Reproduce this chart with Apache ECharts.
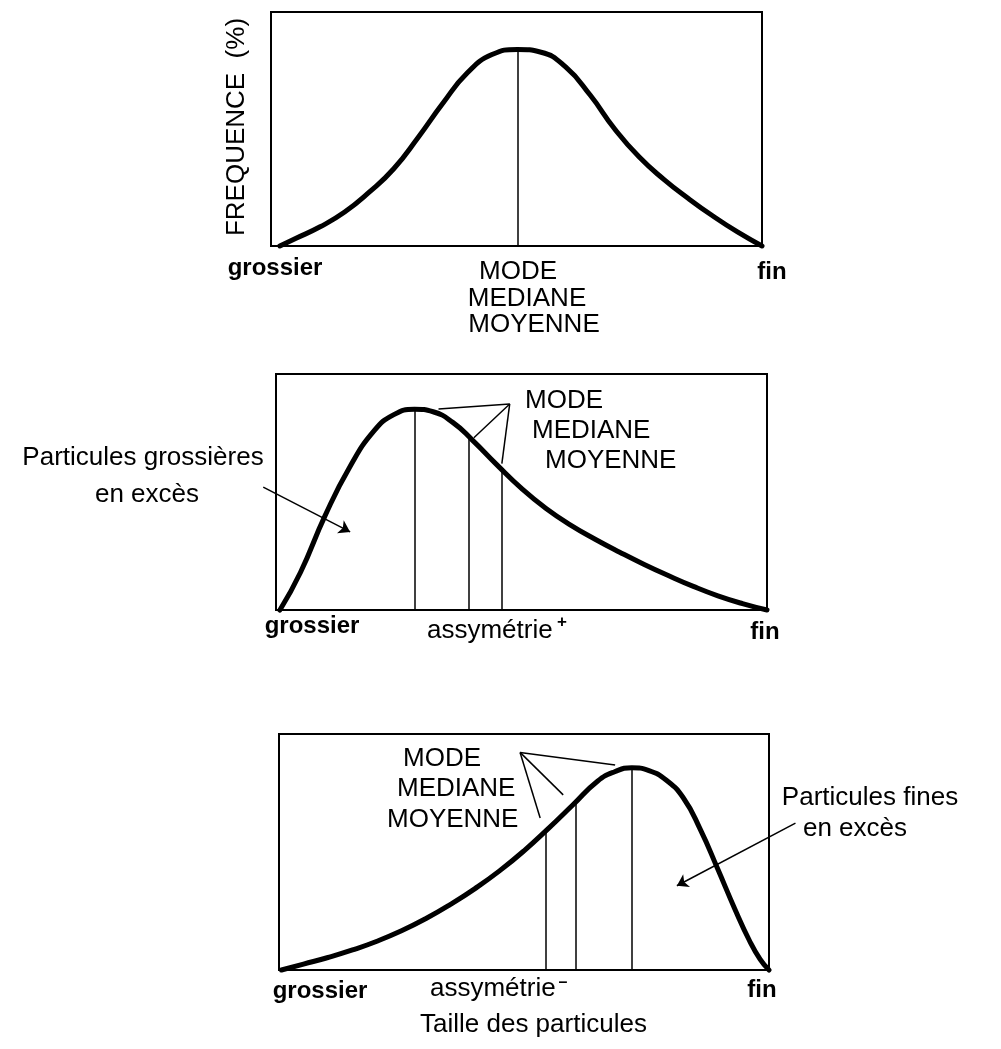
<!DOCTYPE html>
<html>
<head>
<meta charset="utf-8">
<title>Distribution granulométrique</title>
<script src="https://cdn.jsdelivr.net/npm/echarts@6/dist/echarts.min.js"></script>
<style>
  html, body { margin: 0; padding: 0; background: #fff; }
  #main { width: 1001px; height: 1049px; }
</style>
</head>
<body>
<div id="main"></div>
<script>
// courbe symétrique (haut)
var symX = [1.8, 5, 10, 15, 20, 25, 30, 35, 40, 45, 50.2, 55, 60, 65, 70, 75, 80, 85, 90, 95, 100];
var symY = [0, 3.2, 8.2, 14.5, 23, 33, 46.5, 61, 74, 81.8, 84, 82.8, 76.5, 64.5, 50, 38, 28.5, 20.3, 12.8, 6, 0];
var symRepX = [50.2];          // mode = médiane = moyenne
var symRepY = [84];

// assymétrie positive (milieu)
var posX = [0.8, 5, 10, 15, 20, 24, 28.2, 32, 36, 40, 45, 50, 55, 60, 65, 70, 75, 80, 85, 90, 95, 100];
var posY = [0, 16, 40, 60.5, 76, 82.8, 85.1, 84, 79.5, 72, 61.5, 51.5, 43, 36, 30, 24.5, 19.3, 14.5, 10, 6, 2.7, 0];
var posRepX = [28.3, 39.3, 46.0];   // mode, médiane, moyenne
var posRepY = [85.1, 73, 59];

// assymétrie négative (bas)
var negX = [0.5, 5, 10, 15, 20, 25, 30, 35, 40, 45, 50, 55, 60, 65, 68.5, 72, 75.5, 79, 82.5, 86, 89.5, 93, 96, 98.2, 100];
var negY = [0, 2.5, 5.3, 8.5, 12.2, 16.6, 21.8, 27.8, 34.5, 42, 50.5, 60, 70, 80, 84, 85.7, 84.5, 80.5, 73, 59.5, 43, 26, 12.5, 4.5, 0];
var negRepX = [54.4, 60.5, 71.9];   // moyenne, médiane, mode
var negRepY = [59.5, 71, 85.7];

// traits de rappel vers les étiquettes MODE / MEDIANE / MOYENNE
var posLeaderFrom = [47.6, 87.3];
var posLeaderTo = [[33.1, 85.2], [40.3, 73.0], [46.0, 62.0]];
var negLeaderFrom = [49.2, 92.2];
var negLeaderTo = [[68.6, 86.9], [58.0, 74.2], [53.3, 64.4]];

// flèches "en excès"
var posArrow = [[-2.6, 52.1], [15.1, 33.1]];
var negArrow = [[105.4, 62.2], [81.2, 35.7]];

var FONT = '"Liberation Sans", Arial, Helvetica, sans-serif';

var myChart = echarts.init(document.getElementById('main'));

function zip(xs, ys) {
  return xs.map(function (x, i) { return [x, ys[i]]; });
}

function repLines(xs, ys) {
  return xs.map(function (x, i) {
    return [{ coord: [x, 0] }, { coord: [x, ys[i]] }];
  });
}

function leaders(from, to) {
  return to.map(function (p) {
    return [{ coord: from }, { coord: p }];
  });
}

function courbe(idx, xs, ys, repX, repY, lead) {
  var ml = repLines(repX, repY);
  if (lead) ml = ml.concat(lead);
  return {
    type: 'line',
    xAxisIndex: idx,
    yAxisIndex: idx,
    data: zip(xs, ys),
    smooth: 0.5,
    symbol: 'none',
    clip: false,
    silent: true,
    lineStyle: { color: '#000', width: 5, cap: 'round', join: 'round' },
    markLine: {
      silent: true,
      symbol: 'none',
      label: { show: false },
      lineStyle: { color: '#000', width: 1.5, type: 'solid' },
      emphasis: { disabled: true },
      data: ml
    },
    z: 3
  };
}

function fleche(idx, coords) {
  return {
    type: 'lines',
    coordinateSystem: 'cartesian2d',
    xAxisIndex: idx,
    yAxisIndex: idx,
    clip: false,
    silent: true,
    symbol: ['none', 'arrow'],
    symbolSize: 11,
    lineStyle: { color: '#000', width: 1.5, opacity: 1, curveness: 0 },
    data: [{ coords: coords }]
  };
}

function txt(text, x, y, opt) {
  opt = opt || {};
  return {
    type: 'text',
    x: x,
    y: y,
    rotation: opt.rot || 0,
    silent: true,
    style: {
      text: text,
      fill: '#000',
      font: (opt.bold ? 'bold ' : '') + (opt.size || 26) + 'px ' + FONT,
      textAlign: opt.align || 'center',
      textVerticalAlign: 'middle'
    }
  };
}

var grids = [
  { left: 271, top: 12, width: 491, height: 234 },
  { left: 276, top: 374, width: 491, height: 236 },
  { left: 279, top: 734, width: 490, height: 236 }
];

option = {
  backgroundColor: '#fff',
  animation: false,
  grid: grids.map(function (g) {
    return {
      left: g.left, top: g.top, width: g.width, height: g.height,
      show: true, borderColor: '#000', borderWidth: 2, backgroundColor: 'transparent'
    };
  }),
  xAxis: [0, 1, 2].map(function (i) {
    return { type: 'value', gridIndex: i, min: 0, max: 100, show: false };
  }),
  yAxis: [0, 1, 2].map(function (i) {
    return { type: 'value', gridIndex: i, min: 0, max: 100, show: false };
  }),
  series: [
    courbe(0, symX, symY, symRepX, symRepY, null),
    courbe(1, posX, posY, posRepX, posRepY, leaders(posLeaderFrom, posLeaderTo)),
    courbe(2, negX, negY, negRepX, negRepY, leaders(negLeaderFrom, negLeaderTo)),
    fleche(1, posArrow),
    fleche(2, negArrow)
  ],
  graphic: [
    // haut
    txt('FREQUENCE  (%)', 237, 127, { rot: Math.PI / 2, size: 26 }),
    txt('grossier', 275, 268, { bold: true, size: 24 }),
    txt('fin', 772, 272, { bold: true, size: 24 }),
    txt('MODE', 518, 272),
    txt('MEDIANE', 527, 299),
    txt('MOYENNE', 534, 325),
    // milieu
    txt('MODE', 525, 401, { align: 'left' }),
    txt('MEDIANE', 532, 431, { align: 'left' }),
    txt('MOYENNE', 545, 461, { align: 'left' }),
    txt('Particules grossières', 143, 458),
    txt('en excès', 147, 495),
    txt('grossier', 312, 626, { bold: true, size: 24 }),
    txt('assymétrie', 427, 631, { align: 'left' }),
    txt('+', 562, 622, { size: 17, bold: true }),
    txt('fin', 765, 632, { bold: true, size: 24 }),
    // bas
    txt('MODE', 403, 759, { align: 'left' }),
    txt('MEDIANE', 397, 789, { align: 'left' }),
    txt('MOYENNE', 387, 820, { align: 'left' }),
    txt('Particules fines', 870, 798),
    txt('en excès', 855, 829),
    txt('grossier', 320, 991, { bold: true, size: 24 }),
    txt('assymétrie', 430, 989, { align: 'left' }),
    txt('\u2013', 563, 983, { size: 16, bold: true }),
    txt('fin', 762, 990, { bold: true, size: 24 }),
    txt('Taille des particules', 420, 1025, { align: 'left' })
  ]
};

myChart.setOption(option);
</script>
</body>
</html>
